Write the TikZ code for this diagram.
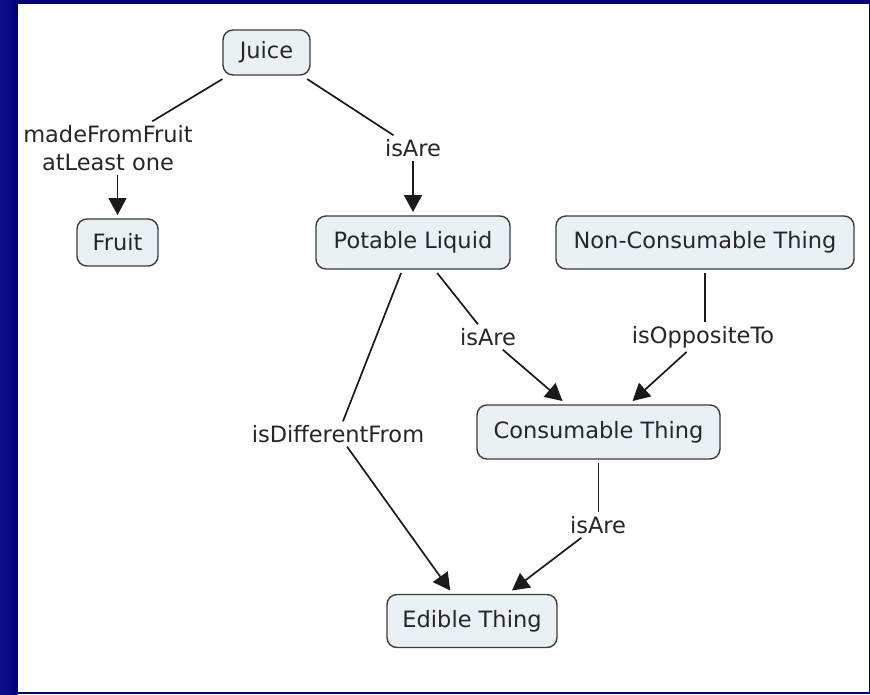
\documentclass[tikz,border=0pt]{standalone}
\usepackage{fontspec}
\setmainfont{DejaVu Sans}
\usetikzlibrary{arrows.meta}

\definecolor{frame}{RGB}{0,0,120}
\definecolor{frameedge}{RGB}{16,16,140}
\definecolor{boxfill}{RGB}{234,241,245}
\definecolor{boxline}{RGB}{60,60,60}
\definecolor{txt}{RGB}{38,38,38}
\definecolor{lnk}{RGB}{26,26,26}

\tikzset{
  concept/.style={draw=boxline, line width=1.4pt, fill=boxfill,
    rounded corners=10pt, text=txt, inner sep=0pt, outer sep=4pt,
    font=\fontsize{22.5}{27}\selectfont},
  linkword/.style={text=txt, inner sep=2pt, outer sep=2pt, align=center,
    font=\fontsize{22.5}{28}\selectfont},
  link/.style={draw=lnk, line width=1.7pt},
  arr/.style={link, -{Triangle[length=17pt,width=18pt]}}
}

\begin{document}
\begin{tikzpicture}[x=1pt,y=-1pt]
  % frame and white canvas
  \useasboundingbox (0,0) rectangle (870,694);
  \fill[frame] (0,0) rectangle (870,694);
  \shade[left color=frameedge, right color=frame] (0,0) rectangle (17.5,694);
  \fill[white] (17.5,4) rectangle (868.5,691.5);

  % concepts
  \node[concept, minimum width=87pt, minimum height=45pt] (juice) at (266.5,52.5) {Juice};
  \node[concept, minimum width=81pt, minimum height=47pt] (fruit) at (117.5,242.5) {Fruit};
  \node[concept, minimum width=194pt, minimum height=53pt] (potable) at (413,242.5) {Potable Liquid};
  \node[concept, minimum width=298pt, minimum height=53pt] (noncons) at (705,242.5) {Non-Consumable Thing};
  \node[concept, minimum width=243pt, minimum height=54pt] (cons) at (598.5,432) {Consumable Thing};
  \node[concept, minimum width=170pt, minimum height=53pt] (edible) at (472,621) {Edible Thing};

  % linking phrases
  \node[linkword] (made) at (108,148) {madeFromFruit\\atLeast one};
  \node[linkword] (isa1) at (413,148) {isAre};
  \node[linkword] (isa2) at (488,337) {isAre};
  \node[linkword] (opp) at (703,337) {isOppositeTo};
  \node[linkword] (diff) at (338,434) {isDifferentFrom};
  \node[linkword] (isa3) at (598,525) {isAre};

  % connections
  \draw[link] (juice) -- (made);
  \draw[arr] (made.south -| fruit) -- (fruit);
  \draw[link] (juice) -- (isa1);
  \draw[arr] (isa1) -- (potable);
  \draw[link] (potable) -- (isa2);
  \draw[arr] (isa2) -- (cons);
  \draw[link] (potable) -- (diff);
  \draw[arr] (diff) -- (edible);
  \draw[link] (noncons) -- (noncons |- opp.north);
  \draw[arr] (opp) -- (cons);
  \draw[link] (cons) -- (cons |- isa3.north);
  \draw[arr] (isa3) -- (edible);
\end{tikzpicture}
\end{document}
